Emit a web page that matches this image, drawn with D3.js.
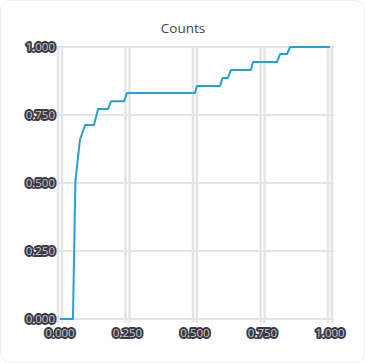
<!DOCTYPE html>
<html>
<head>
<meta charset="utf-8">
<script src="https://cdn.jsdelivr.net/npm/d3@7"></script>
<style>
  html, body { margin: 0; padding: 0; background: #fff; }
  .card { position: absolute; left: 0; top: 0; width: 363px; height: 361px;
          border: 1px solid #efefef; border-radius: 10px; background: #fff; }
  .tick-label { font-family: "Open Sans", sans-serif; font-size: 11.5px;
                fill: #c8c8d0; stroke: #3b3b45; stroke-width: 4px;
                paint-order: stroke; stroke-linejoin: round; }
</style>
</head>
<body>
<div class="card"></div>
<script>
// data (normalised x, normalised count)
var xValues = [0, 0.048, 0.057, 0.074, 0.093, 0.126, 0.141, 0.178, 0.189, 0.237, 0.248,
               0.5, 0.507, 0.593, 0.602, 0.622, 0.633, 0.707, 0.715, 0.804, 0.815, 0.841, 0.852, 1];
var yValues = [0, 0, 0.507, 0.66, 0.713, 0.713, 0.772, 0.772, 0.801, 0.801, 0.831,
               0.831, 0.857, 0.857, 0.886, 0.886, 0.915, 0.915, 0.945, 0.945, 0.974, 0.974, 1, 1];
var xTicks = [0, 0.25, 0.5, 0.75, 1];
var yTicks = [0, 0.25, 0.5, 0.75, 1];
var title = "Counts";

var dataset = xValues.map(function(x, i) { return {x: x, y: yValues[i]}; });

var margin = {top: 47, right: 35, bottom: 44, left: 60}
  , width = 270
  , height = 272;

var xScale = d3.scaleLinear().domain([0, 1]).range([0, width]);
var yScale = d3.scaleLinear().domain([0, 1]).range([height, 0]);
var fmt = d3.format(".3f");

var svg = d3.select("body").append("svg")
    .attr("width", 365)
    .attr("height", 363)
    .style("position", "absolute")
    .style("left", 0).style("top", 0);

svg.append("text")
    .attr("x", 183)
    .attr("y", 33)
    .attr("text-anchor", "middle")
    .style("font-family", "'Open Sans', sans-serif")
    .style("font-size", "13.5px")
    .style("fill", "#444")
    .text(title);

var g = svg.append("g")
    .attr("transform", "translate(" + margin.left + "," + margin.top + ")");

// horizontal grid
g.append("g")
    .selectAll("line")
    .data(yTicks)
  .enter().append("line")
    .attr("x1", -7)
    .attr("x2", width + 4)
    .attr("y1", function(d) { return yScale(d); })
    .attr("y2", function(d) { return yScale(d); })
    .attr("stroke", "#e4e4e4")
    .attr("stroke-width", 2);

// vertical grid, drawn as a doubled line
[-2, 2].forEach(function(off) {
    g.append("g")
        .selectAll("line")
        .data(xTicks)
      .enter().append("line")
        .attr("x1", function(d) { return xScale(d) + off; })
        .attr("x2", function(d) { return xScale(d) + off; })
        .attr("y1", 0)
        .attr("y2", height + 4)
        .attr("stroke", "#e4e4e4")
        .attr("stroke-width", 2.5);
});

var line = d3.line()
    .x(function(d) { return xScale(d.x); })
    .y(function(d) { return yScale(d.y); });

g.append("path")
    .datum(dataset)
    .attr("fill", "none")
    .attr("stroke", "#2b9dd9")
    .attr("stroke-width", 2)
    .attr("stroke-linejoin", "round")
    .attr("d", line);

// tick labels
g.append("g")
    .selectAll("text")
    .data(yTicks)
  .enter().append("text")
    .attr("class", "tick-label")
    .attr("x", -5)
    .attr("y", function(d) { return yScale(d); })
    .attr("dy", "0.35em")
    .attr("text-anchor", "end")
    .text(fmt);

g.append("g")
    .selectAll("text")
    .data(xTicks)
  .enter().append("text")
    .attr("class", "tick-label")
    .attr("x", function(d) { return xScale(d); })
    .attr("y", height + 14)
    .attr("dy", "0.35em")
    .attr("text-anchor", "middle")
    .text(fmt);
</script>
</body>
</html>
